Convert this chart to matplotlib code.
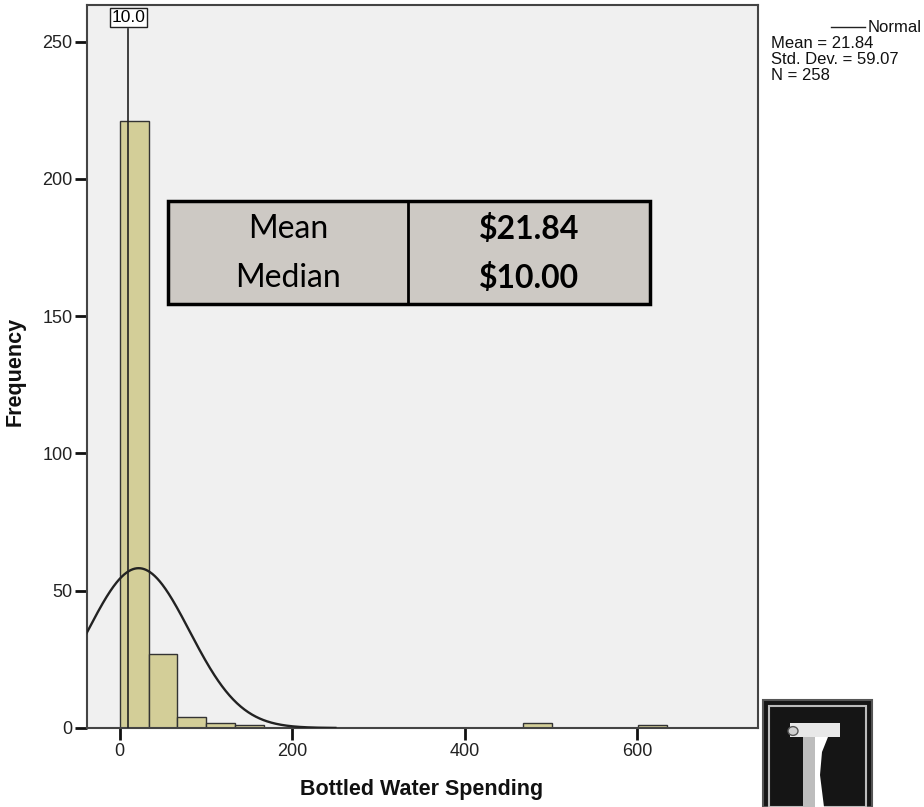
import matplotlib.pyplot as plt
import numpy as np
from matplotlib.patches import Rectangle, Polygon, Circle

W, H = 924, 807
fig = plt.figure(figsize=(W / 100, H / 100), dpi=100)

# histogram data (bin width ~33.4)
bin_width = 33.4
counts = [221, 27, 4, 2, 1, 0, 0, 0, 0, 0, 0, 0, 0, 0, 2, 0, 0, 0, 1]
mean_val = 21.84
sd_val = 59.07
n_val = 258
median_val = 10.0
xticks = [0, 200, 400, 600]
yticks = [0, 50, 100, 150, 200, 250]
table_rows = [("Mean", "$21.84"), ("Median", "$10.00")]


def fx(px):
    return px / W


def fy(py):
    return 1 - py / H


ax = fig.add_axes([fx(87), fy(728), (758 - 87) / W, (728 - 5) / H])
ax.set_facecolor('#f0f0f0')

edges = np.arange(len(counts)) * bin_width
ax.bar(edges, counts, width=bin_width, align='edge', color='#d3ce98',
       edgecolor='#333333', linewidth=1.0, zorder=2)

# normal curve
xs = np.linspace(-40, 250, 400)
pdf = np.exp(-0.5 * ((xs - mean_val) / sd_val) ** 2) / (sd_val * np.sqrt(2 * np.pi))
ax.plot(xs, n_val * bin_width * pdf, color='#222222', linewidth=1.7, zorder=3)

# median line with label
ax.plot([median_val, median_val], [0, 254.5], color='#222222', linewidth=1.2, zorder=4)
ax.text(median_val, 258.8, f"{median_val:.1f}", ha='center', va='center', fontsize=12.5,
        family='Liberation Sans', zorder=5,
        bbox=dict(boxstyle='square,pad=0.1', facecolor='white', edgecolor='#222222', linewidth=1))

ax.set_xlim(-38, 740)
ax.set_ylim(0, 263.3)
ax.set_xticks(xticks)
ax.set_yticks(yticks)
ax.tick_params(direction='out', length=8.5, width=2, colors='#111111',
               labelsize=13, pad=2)
for lab in ax.get_xticklabels() + ax.get_yticklabels():
    lab.set_family('Liberation Sans')
    lab.set_color('#222222')
for s in ax.spines.values():
    s.set_color('#444444')
    s.set_linewidth(1.5)

fig.text(fx(422), fy(790), "Bottled Water Spending", ha='center', va='center',
         fontsize=15.5, fontweight='bold', family='Liberation Sans', color='#111111')
fig.text(fx(15), fy(371), "Frequency", ha='center', va='center', rotation=90,
         fontsize=15.5, fontweight='bold', family='Liberation Sans', color='#111111')

# legend-like text at top right
fig.add_artist(plt.Line2D([fx(831), fx(865)], [fy(27), fy(27)], color='#222222', linewidth=1))
fig.text(fx(868), fy(27), "Normal", ha='left', va='center', fontsize=12,
         family='Liberation Sans', color='#111111')
info = [f"Mean = {mean_val:.2f}", f"Std. Dev. = {sd_val:.2f}", f"N = {n_val}"]
for i, line in enumerate(info):
    fig.text(fx(771), fy(43 + 16 * i), line, ha='left', va='center', fontsize=12,
             family='Liberation Sans', color='#111111')

# summary table
tx0, tx1, tdiv, ty0, ty1 = 168, 650, 408, 201, 304
fig.add_artist(Rectangle((fx(tx0), fy(ty1)), (tx1 - tx0) / W, (ty1 - ty0) / H,
                         transform=fig.transFigure, facecolor='#cdc9c4',
                         edgecolor='black', linewidth=2.5, zorder=10))
fig.add_artist(plt.Line2D([fx(tdiv), fx(tdiv)], [fy(ty0), fy(ty1)], color='black',
                          linewidth=2, zorder=11))
row_y = [229, 278]
for (lab, val), yy in zip(table_rows, row_y):
    fig.text(fx((tx0 + tdiv) / 2), fy(yy), lab, ha='center', va='center', fontsize=23,
             family='Lato', color='black', zorder=12)
    fig.text(fx((tdiv + tx1) / 2), fy(yy), val, ha='center', va='center', fontsize=23,
             family='Lato', fontweight='bold', color='black', zorder=12)

# logo at bottom right
fig.add_artist(Rectangle((fx(763), fy(807)), (872 - 763) / W, (807 - 700) / H,
                         transform=fig.transFigure, facecolor='#151515',
                         edgecolor='#555555', linewidth=1.5, zorder=10))
fig.add_artist(Rectangle((fx(769), fy(807)), (866 - 769) / W, (807 - 706) / H,
                         transform=fig.transFigure, facecolor='#151515',
                         edgecolor='#bbbbbb', linewidth=1.5, zorder=11))
fig.add_artist(Rectangle((fx(790), fy(737)), (840 - 790) / W, (737 - 723) / H,
                         transform=fig.transFigure, facecolor='#e8e8e8',
                         edgecolor='none', zorder=12))
fig.add_artist(Rectangle((fx(803), fy(807)), (815 - 803) / W, (807 - 737) / H,
                         transform=fig.transFigure, facecolor='#bdbdbd',
                         edgecolor='none', zorder=12))
curve = [(815, 737), (828, 737), (822, 752), (820, 775), (824, 807), (815, 807)]
fig.add_artist(Polygon([(fx(a), fy(b)) for a, b in curve], closed=True,
                       transform=fig.transFigure, facecolor='white',
                       edgecolor='none', zorder=12))
fig.add_artist(Circle((fx(793), fy(731)), 5 / W, transform=fig.transFigure,
                      facecolor='#d0d0d0', edgecolor='#555555', zorder=13))

fig.savefig('out.png', dpi=100)
